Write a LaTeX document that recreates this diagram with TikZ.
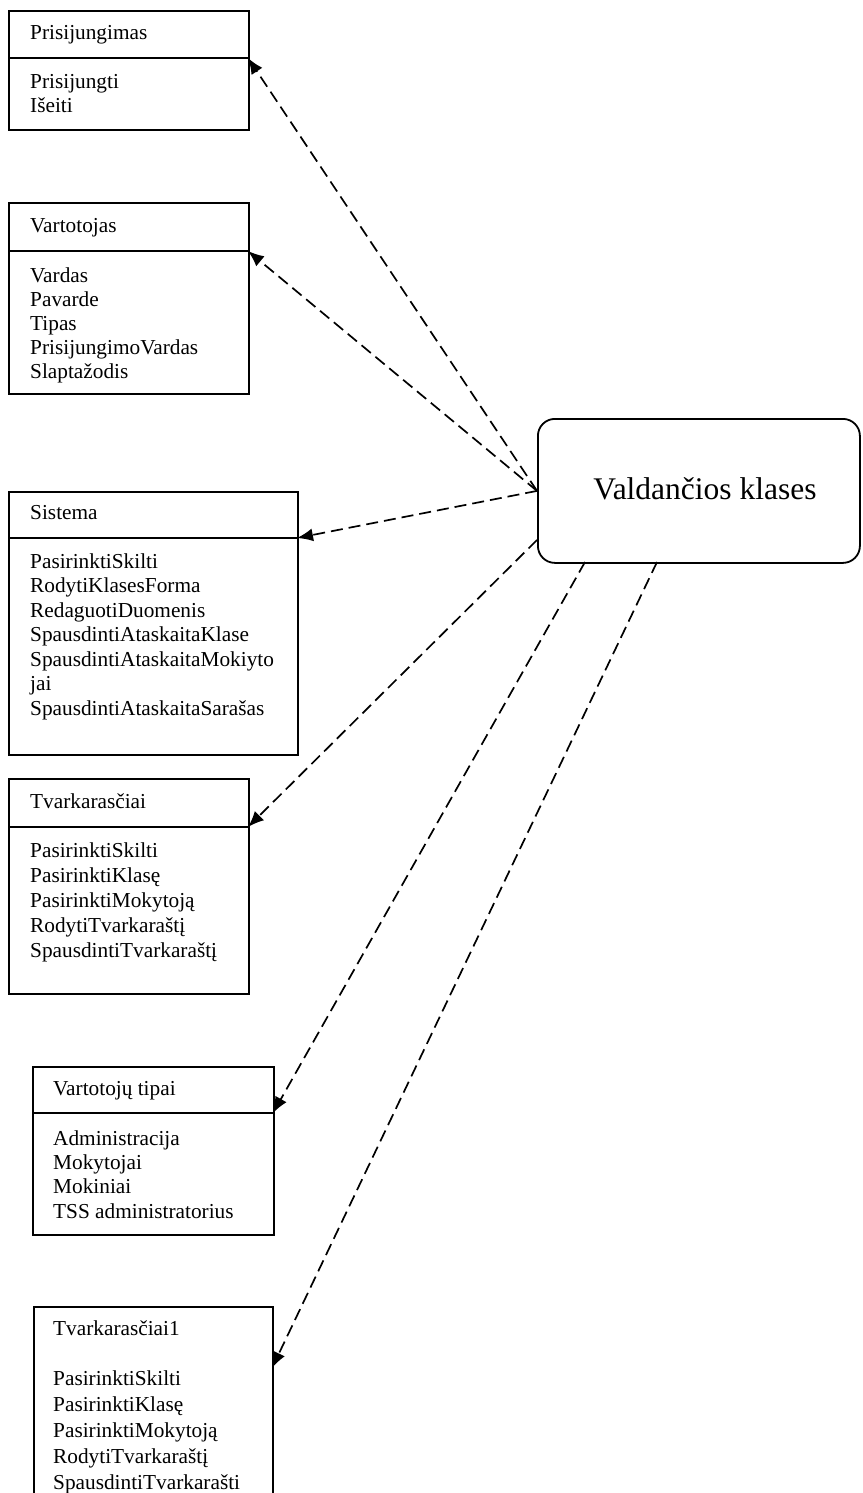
\documentclass[tikz,border=0pt]{standalone}
\usepackage{fontspec}
\setmainfont{Liberation Serif}
\usetikzlibrary{arrows.meta}
\tikzset{
  umlbox/.style={draw, line width=1.8pt, anchor=north west, inner sep=0pt},
  txt/.style={font=\fontsize{21.3}{24}\selectfont, anchor=base west, inner sep=0pt},
  dep/.style={line width=1.7pt, dash pattern=on 12pt off 6pt, -{Latex[length=16pt,width=13pt]}},
  sep/.style={line width=1.8pt}
}
\begin{document}
\begin{tikzpicture}[x=1pt,y=-1pt]
\useasboundingbox (0,0) rectangle (862,1493);
\clip (0,0) rectangle (862,1493);

% Boxes
\node[umlbox, minimum width=240pt, minimum height=119pt] (b1) at (8,10) {};
\node[umlbox, minimum width=240pt, minimum height=191pt] (b2) at (8,202) {};
\node[umlbox, minimum width=289pt, minimum height=263pt] (b3) at (8,491) {};
\node[umlbox, minimum width=240pt, minimum height=215pt] (b4) at (8,778) {};
\node[umlbox, minimum width=241pt, minimum height=168pt] (b5) at (32,1066) {};
\node[umlbox, minimum width=239pt, minimum height=220pt] (b6) at (33,1306) {};

% separator end points
\coordinate (s1w) at (8,58);   \coordinate (s1) at (248,58);
\coordinate (s2w) at (8,251);  \coordinate (s2) at (248,251);
\coordinate (s3w) at (8,538);  \coordinate (s3) at (297,538);
\coordinate (s4w) at (8,827);  \coordinate (s4) at (248,827);
\coordinate (s5w) at (32,1113); \coordinate (s5) at (273,1113);
\coordinate (s6) at (272,1368);
\draw[sep] (s1w) -- (s1);
\draw[sep] (s2w) -- (s2);
\draw[sep] (s3w) -- (s3);
\draw[sep] (s4w) -- (s4);
\draw[sep] (s5w) -- (s5);

% Texts
\node[txt] (t1) at (30,40) {Prisijungimas};
\node[txt] (t1a) at (30,89) {Prisijungti};
\node[txt] (t1b) at (30,113) {Išeiti};

\node[txt] (t2) at (30,232) {Vartotojas};
\node[txt] (t2a) at (30,282) {Vardas};
\node[txt] (t2b) at (30,306) {Pavarde};
\node[txt] (t2c) at (30,330) {Tipas};
\node[txt] (t2d) at (30,354) {PrisijungimoVardas};
\node[txt] (t2e) at (30,378) {Slaptažodis};

\node[txt] (t3) at (30,519) {Sistema};
\node[txt] (t3a) at (30,568) {PasirinktiSkilti};
\node[txt] (t3b) at (30,592.5) {RodytiKlasesForma};
\node[txt] (t3c) at (30,617) {RedaguotiDuomenis};
\node[txt] (t3d) at (30,641.5) {SpausdintiAtaskaitaKlase};
\node[txt] (t3e) at (30,666) {SpausdintiAtaskaitaMokiyto};
\node[txt] (t3f) at (30,690.5) {jai};
\node[txt] (t3g) at (30,715) {SpausdintiAtaskaitaSarašas};

\node[txt] (t4) at (30,808) {Tvarkarasčiai};
\node[txt] (t4a) at (30,857) {PasirinktiSkilti};
\node[txt] (t4b) at (30,882) {PasirinktiKlasę};
\node[txt] (t4c) at (30,907) {PasirinktiMokytoją};
\node[txt] (t4d) at (30,932) {RodytiTvarkaraštį};
\node[txt] (t4e) at (30,957) {SpausdintiTvarkaraštį};

\node[txt] (t5) at (53,1095) {Vartotojų tipai};
\node[txt] (t5a) at (53,1145) {Administracija};
\node[txt] (t5b) at (53,1169.3) {Mokytojai};
\node[txt] (t5c) at (53,1193.6) {Mokiniai};
\node[txt] (t5d) at (53,1218) {TSS administratorius};

\node[txt] (t6) at (53,1335) {Tvarkarasčiai1};
\node[txt] (t6a) at (53,1385) {PasirinktiSkilti};
\node[txt] (t6b) at (53,1411) {PasirinktiKlasę};
\node[txt] (t6c) at (53,1437) {PasirinktiMokytoją};
\node[txt] (t6d) at (53,1463) {RodytiTvarkaraštį};
\node[txt] (t6e) at (53,1489) {SpausdintiTvarkarašti};

% Controller box
\node[draw, line width=1.8pt, rounded corners=17pt, anchor=north west,
      minimum width=322pt, minimum height=144pt, inner sep=0pt] (vk) at (537,418) {};
\node[font=\fontsize{31.5}{36}\selectfont, anchor=base, inner sep=0pt] (vkt) at (705,499) {Valdančios klases};

\coordinate (o4) at (537,540);
\coordinate (o5) at (585,562);
\coordinate (o6) at (657,562);

% Connectors
\draw[dep] (vk.west) -- (s1);
\draw[dep] (vk.west) -- (s2);
\draw[dep] (vk.west) -- (s3);
\draw[dep] (o4) -- (s4);
\draw[dep] (o5) -- (s5);
\draw[dep] (o6) -- (s6);
\end{tikzpicture}
\end{document}
